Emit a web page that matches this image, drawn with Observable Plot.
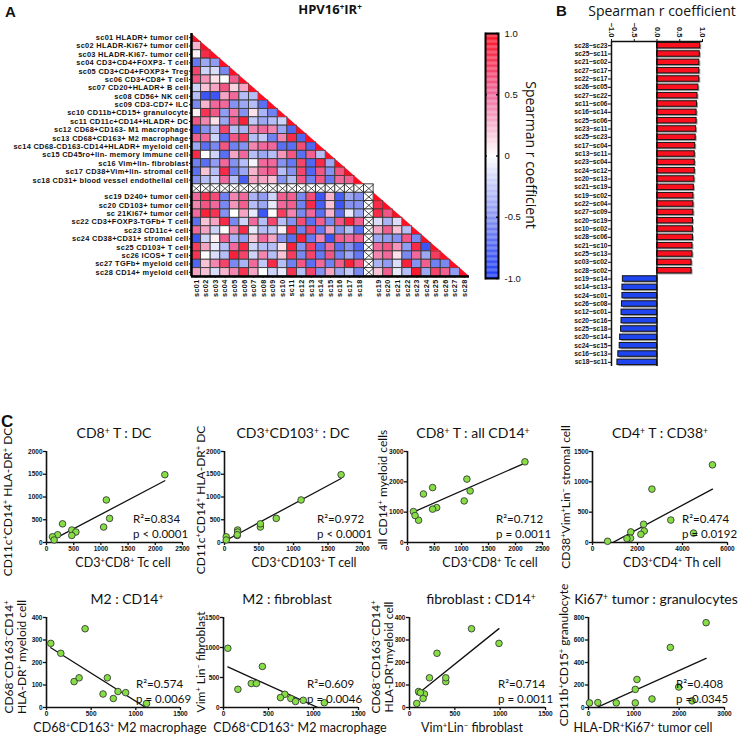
<!DOCTYPE html>
<html><head><meta charset="utf-8">
<script src="https://cdn.jsdelivr.net/npm/d3@7"></script>
<script src="https://cdn.jsdelivr.net/npm/@observablehq/plot@0.6"></script>
<style>
body{margin:0;background:#fff;}
#fig{position:relative;width:739px;height:738px;overflow:hidden;background:#fff;}
.t{position:absolute;white-space:nowrap;line-height:1;color:#111;}
.t sup{font-size:0.62em;vertical-align:baseline;position:relative;top:-0.5em;}
</style></head><body><div id="fig"></div><script>
// ---------- DATA ----------
const varNames = ["sc01 HLADR+ tumor cell","sc02 HLADR-Ki67+ tumor cell","sc03 HLADR-Ki67- tumor cell","sc04 CD3+CD4+FOXP3- T cell","sc05 CD3+CD4+FOXP3+ Treg","sc06 CD3+CD8+ T cell","sc07 CD20+HLADR+ B cell","sc08 CD56+ NK cell","sc09 CD3-CD7+ ILC","sc10 CD11b+CD15+ granulocyte","sc11 CD11c+CD14+HLADR+ DC","sc12 CD68+CD163- M1 macrophage","sc13 CD68+CD163+ M2 macrophage","sc14 CD68-CD163-CD14+HLADR+ myeloid cell","sc15 CD45ro+lin- memory immune cell","sc16 Vim+lin- fibroblast","sc17 CD38+Vim+lin- stromal cell","sc18 CD31+ blood vessel endothelial cell","sc19 D240+ tumor cell","sc20 CD103+ tumor cell","sc 21Ki67+ tumor cell","sc22 CD3+FOXP3-TGFb+ T cell","sc23 CD11c+ cell","sc24 CD38+CD31+ stromal cell","sc25 CD103+ T cell","sc26 ICOS+ T cell","sc27 TGFb+ myeloid cell","sc28 CD14+ myeloid cell"];
const varCodes = ["sc01","sc02","sc03","sc04","sc05","sc06","sc07","sc08","sc09","sc10","sc11","sc12","sc13","sc14","sc15","sc16","sc17","sc18","sc19","sc20","sc21","sc22","sc23","sc24","sc25","sc26","sc27","sc28"];
// lower-triangle Spearman r, row i holds columns 0..i-1
const corrRows = [
 [],
 [0.25],
 [0.05,0.85],
 [-0.65,-0.4,-0.45],
 [0.7,-0.2,-0.15,-0.55],
 [0.6,0.35,0.1,0.0,0.55],
 [-0.2,0.2,0.3,0.6,0.15,0.3],
 [-0.3,-0.85,-0.85,0.3,0.5,-0.3,-0.3],
 [-0.55,0.25,0.5,0.5,-0.5,-0.4,-0.3,-0.7],
 [0.05,0.8,0.6,-0.45,0.45,-0.5,0.1,-0.35,-0.6],
 [0.6,0.4,0.1,-0.4,0.55,0.9,-0.25,-0.4,-0.3,-0.2],
 [-0.85,-0.5,-0.3,0.7,-0.3,-0.35,0.4,0.5,0.4,-0.4,-0.75],
 [0.55,0.5,-0.2,-0.7,0.6,0.75,-0.3,-0.25,-0.6,0.4,0.85,-0.75],
 [-0.4,-0.7,-0.55,0.6,-0.6,-0.5,0.4,0.5,0.5,-0.7,-0.7,0.65,-0.75],
 [0.85,0.0,-0.2,-0.7,0.3,0.5,-0.3,-0.4,-0.3,0.35,0.6,-0.7,0.55,-0.3],
 [-0.6,-0.7,-0.45,0.5,-0.5,-0.3,-0.05,0.5,0.5,-0.5,-0.65,0.7,-0.75,0.85,-0.4],
 [-0.7,0.2,-0.3,0.85,-0.6,-0.4,0.25,0.5,0.6,-0.3,-0.5,0.7,-0.75,0.6,-0.5,0.6],
 [-0.5,-0.3,-0.2,0.5,-0.3,-0.8,0.3,0.3,0.2,-0.5,-0.3,0.6,-0.6,0.6,-0.65,0.5,0.55],
 [0.5,0.8,0.65,-0.6,0.4,0.5,-0.35,-0.45,-0.2,0.55,0.55,-0.55,0.65,-0.85,0.25,-0.8,-0.4,-0.5],
 [0.4,0.6,0.5,-0.55,0.35,0.55,-0.3,-0.4,-0.1,0.5,0.55,-0.6,0.85,-0.8,0.2,-0.85,-0.5,-0.5,0.85],
 [0.5,0.9,0.8,-0.5,0.0,0.3,-0.1,-0.85,0.0,0.75,0.4,-0.55,0.5,-0.7,0.25,-0.7,-0.1,-0.4,0.85,0.6],
 [-0.7,0.2,0.3,0.85,-0.55,-0.2,0.5,-0.3,0.7,-0.3,-0.5,0.65,-0.7,0.55,-0.55,0.6,0.9,0.55,-0.15,-0.35,-0.15],
 [0.5,0.3,-0.2,0.0,0.4,0.85,-0.1,-0.3,-0.25,0.05,0.85,-0.6,0.7,-0.65,0.3,-0.5,-0.3,-0.7,0.3,0.55,0.2,-0.3],
 [-0.85,-0.2,0.05,0.55,-0.35,-0.45,0.2,0.5,0.3,-0.5,-0.7,0.9,-0.65,0.4,-0.85,0.55,0.5,0.55,-0.4,-0.45,-0.5,0.6,-0.55],
 [0.75,0.3,-0.1,-0.3,0.5,0.85,-0.2,-0.3,-0.3,0.1,0.9,-0.5,0.75,-0.7,0.5,-0.7,-0.5,-0.75,0.5,0.6,0.35,-0.45,0.85,-0.85],
 [0.8,0.0,-0.15,-0.3,0.9,0.7,-0.2,0.4,-0.3,0.2,0.75,-0.55,0.7,-0.65,0.6,-0.6,-0.4,-0.65,0.4,0.5,0.1,-0.55,0.5,-0.4,0.75],
 [-0.75,0.2,0.4,0.7,-0.55,-0.35,0.5,-0.25,0.85,-0.3,-0.6,0.6,-0.7,0.5,-0.6,0.55,0.9,0.6,-0.35,-0.45,-0.15,0.9,-0.5,0.55,-0.6,-0.55],
 [0.3,0.2,-0.15,0.25,0.4,0.8,0.3,0.0,-0.2,-0.1,0.8,-0.3,0.7,-0.5,0.3,-0.4,-0.25,-0.55,0.2,0.55,-0.1,-0.3,0.95,-0.4,0.7,0.55,-0.45]
];
const colorbarTicks = [-1, -0.5, 0, 0.5, 1];
const colorbarTickLabels = ["-1.0", "-0.5", "0", "0.5", "1.0"];

const pairLabels = ["sc28~sc23","sc25~sc11","sc21~sc02","sc27~sc17","sc22~sc17","sc26~sc05","sc27~sc22","sc11~sc06","sc16~sc14","sc25~sc06","sc23~sc11","sc25~sc23","sc17~sc04","sc13~sc11","sc23~sc04","sc24~sc12","sc20~sc13","sc21~sc19","sc19~sc02","sc22~sc04","sc27~sc09","sc20~sc19","sc10~sc02","sc28~sc06","sc21~sc10","sc25~sc13","sc03~sc02","sc28~sc02","sc19~sc14","sc14~sc13","sc24~sc01","sc26~sc08","sc12~sc01","sc20~sc16","sc25~sc18","sc20~sc14","sc24~sc15","sc16~sc13","sc18~sc11"];
const pairR = [0.95,0.94,0.93,0.93,0.93,0.91,0.89,0.88,0.87,0.87,0.86,0.85,0.84,0.83,0.83,0.83,0.82,0.81,0.80,0.80,0.80,0.79,0.79,0.79,0.78,0.78,0.76,0.76,-0.75,-0.76,-0.76,-0.77,-0.78,-0.78,-0.79,-0.81,-0.82,-0.85,-0.87];
const barTicks = [-1, -0.5, 0, 0.5, 1];

// scatter data (panel C)
const tc8 = [2175,1100,1160,1050,295,465,540,465,205,110,140];
const dc = [1490,935,530,340,410,275,230,155,170,125,55];
const tc103 = [1690,1110,750,520,520,190,190,185,185,25,25];
const cd14All = [2660,2090,1700,1370,1600,1810,1150,1100,735,1020,890];
const th4 = [5330,2640,3480,2270,2300,1700,2150,1690,1530,670,4490];
const stromal = [1280,880,370,300,190,175,135,70,65,20,155];
const m2 = [48,160,432,309,365,681,633,748,800,886,1120];
const cd14Myeloid = [285,241,350,115,132,132,60,40,71,66,18];
const fibro = [987,303,684,400,400,220,165,150,100,120,80];
const ki67 = [2594,1805,1069,1032,1400,1032,612,206,22,1990,2284];
const gran = [754,534,249,161,76,41,41,44,41,182,59];
const panelTitles = ["CD8^+ T : DC","CD3^+CD103^+ : DC","CD8^+ T : all CD14^+","CD4^+ T : CD38^+","M2 : CD14^+","M2 : fibroblast","fibroblast : CD14^+","Ki67^+ tumor : granulocytes"];
const panelStats = [["R²=0.834","p < 0.0001"],["R²=0.972","p < 0.0001"],["R²=0.712","p = 0.0011"],["R²=0.474","p = 0.0192"],["R²=0.574","p = 0.0069"],["R²=0.609","p = 0.0046"],["R²=0.714","p = 0.0011"],["R²=0.408","p =0.0345"]];
const xLabels = ["CD3^+CD8^+ Tc cell","CD3^+CD103^+ T cell","CD3^+CD8^+ Tc cell","CD3^+CD4^+ Th cell","CD68^+CD163^+ M2 macrophage","CD68^+CD163^+ M2 macrophage","Vim^+Lin^- fibroblast","HLA-DR^+Ki67^+ tumor cell"];
const yLabels = [["CD11c^+CD14^+ HLA-DR^+ DC"],["CD11c^+CD14^+ HLA-DR^+ DC"],["all CD14^+ myeloid cells"],["CD38^+Vim^+Lin^- stromal cell"],["CD68^-CD163^-CD14^+","HLA-DR^+ myeloid cell"],["Vim^+ Lin^- fibroblast"],["CD68^-CD163^-CD14^+","HLA-DR^+myeloid cell"],["CD11b^+CD15^+ granulocyte"]];

// ---------- HELPERS ----------
const fig = document.getElementById("fig");
function put(el, left, top){ el.style.position="absolute"; el.style.left=left+"px"; el.style.top=top+"px"; fig.appendChild(el); }
function sup(s){ return s.replace(/\^([+\-])/g,(m,c)=>`<sup>${c==="-"?"−":c}</sup>`); }
function txt(s, x, y, o={}){
  const d=document.createElement("div"); d.className="t"; d.innerHTML=sup(s);
  d.style.left=x+"px"; d.style.top=y+"px";
  d.style.fontSize=(o.size||12)+"px"; d.style.fontWeight=o.weight||"normal";
  d.style.fontFamily=o.family||"Lato, sans-serif";
  const a=o.anchor||"middle";
  const tx=a==="start"?"0":a==="end"?"-100%":"-50%";
  d.style.transform=`translate(${tx},-50%)`+(o.rotate?` rotate(${o.rotate}deg)`:"");
  fig.appendChild(d);
}
const colorScale = {type:"linear", domain:[-1,-0.5,0,0.5,1], range:["#1c3bf5","#8592f2","#ffffff","#f0689c","#fb0f22"], interpolate:"rgb"};

// ---------- PANEL A : heatmap ----------
const slot = i => i < 18 ? i : i + 1;
const cells = [];
corrRows.forEach((row,i)=>row.forEach((v,j)=>cells.push({r:slot(i), c:slot(j), v})));
const sep = [];
for (let j=0;j<18;j++) sep.push({r:18, c:j});
sep.push({r:18,c:18});
for (let i=18;i<28;i++) sep.push({r:slot(i), c:18});
const tri = [];
varCodes.forEach((_,i)=>{ const k=slot(i); tri.push({k, x:k, y1:k+1, y2:k}, {k, x:k+1, y1:k+1, y2:k+1}); });
const rowTick = new Map(varNames.map((n,i)=>[slot(i)+0.5, n]));
const colTick = new Map(varCodes.map((n,i)=>[slot(i)+0.5, n]));

const heat = Plot.plot({
  width:480, height:300, marginLeft:191, marginRight:11, marginTop:33, marginBottom:24,
  x:{domain:[0,29]}, y:{domain:[0,29], reverse:true},
  color:colorScale,
  style:{fontFamily:"Liberation Sans, Arial, sans-serif", background:"transparent", color:"#111", overflow:"visible", letterSpacing:"0.3px"},
  marks:[
    Plot.rect(cells,{x1:"c", x2:d=>d.c+1, y1:"r", y2:d=>d.r+1, fill:"v", stroke:"#3c3c3c", strokeWidth:0.9}),
    Plot.rect(sep,{x1:"c", x2:d=>d.c+1, y1:"r", y2:d=>d.r+1, fill:"white", stroke:"#333", strokeWidth:0.9}),
    Plot.link(sep,{x1:"c", y1:"r", x2:d=>d.c+1, y2:d=>d.r+1, stroke:"#222", strokeWidth:0.8}),
    Plot.link(sep,{x1:d=>d.c+1, y1:"r", x2:"c", y2:d=>d.r+1, stroke:"#222", strokeWidth:0.8}),
    Plot.areaY(tri.filter(d=>d.k!==18),{x:"x", y1:"y1", y2:"y2", z:"k", fill:"#fb0f22"}),
    Plot.ruleX([0],{stroke:"#000", strokeWidth:2.5}),
    Plot.ruleY([29],{stroke:"#000", strokeWidth:2.5}),
    Plot.axisY({ticks:[...rowTick.keys()], tickFormat:v=>rowTick.get(v), tickSize:2, tickPadding:1, fontSize:7.4, fontWeight:"bold", label:null}),
    Plot.axisX({ticks:[...colTick.keys()], tickFormat:v=>colTick.get(v), tickSize:2, tickPadding:1, tickRotate:-90, fontSize:7.3, fontWeight:"bold", label:null})
  ]
});
put(heat, 0, 0);
txt("A", 5, 11, {size:15, weight:"bold", anchor:"start", family:"Liberation Sans, Arial, sans-serif"});
txt("HPV16^+IR^+", 330, 9, {size:13, weight:"bold", family:"Open Sans, sans-serif"});

// colorbar
const cbSteps = d3.range(-1, 1, 0.01);
const cb = Plot.plot({
  width:75, height:265, marginLeft:15, marginRight:47, marginTop:8, marginBottom:12,
  x:{domain:[0,1], axis:null}, y:{domain:[-1,1]},
  color:colorScale,
  style:{fontFamily:"Liberation Sans, Arial, sans-serif", background:"transparent", color:"#111", overflow:"visible"},
  marks:[
    Plot.rect(cbSteps,{x1:0, x2:1, y1:d=>d, y2:d=>d+0.01, fill:d=>d+0.005}),
    Plot.ruleY(colorbarTicks,{x1:0, x2:0.14, stroke:"#000", strokeWidth:1.5}),
    Plot.ruleY(colorbarTicks,{x1:0.86, x2:1, stroke:"#000", strokeWidth:1.5}),
    Plot.frame({stroke:"#000", strokeWidth:2}),
    Plot.axisY({anchor:"right", ticks:colorbarTicks, tickFormat:d=>colorbarTickLabels[colorbarTicks.indexOf(d)], tickSize:0, tickPadding:6, fontSize:9.5, label:null})
  ]
});
put(cb, 470, 25);
txt("Spearman r coefficient", 531, 155, {size:14, rotate:90, family:"Open Sans, sans-serif"});

// ---------- PANEL B : bars ----------
const bars = pairLabels.map((p,i)=>({i, p, v:pairR[i]}));
const barTick = new Map(bars.map(d=>[d.i+0.5, d.p]));
const bp = Plot.plot({
  width:179, height:380, marginLeft:51, marginRight:37, marginTop:41, marginBottom:14,
  x:{domain:[-1,1]}, y:{domain:[0,39], reverse:true},
  style:{fontFamily:"Liberation Sans, Arial, sans-serif", background:"transparent", color:"#111", overflow:"visible"},
  marks:[
    Plot.rect(bars,{x1:0, x2:"v", y1:d=>d.i+0.17, y2:d=>d.i+0.83, fill:"#a0a0a0", dx:1.5, dy:1.5}),
    Plot.rect(bars,{x1:0, x2:"v", y1:d=>d.i+0.17, y2:d=>d.i+0.83, fill:d=>d.v>0?"#fb1020":"#1f45f0", stroke:"#111", strokeWidth:1}),
    Plot.ruleX([0],{stroke:"#111", strokeWidth:1.5}),
    Plot.ruleX([-1],{stroke:"#111", strokeWidth:1.5}),
    Plot.ruleY([0],{stroke:"#111", strokeWidth:1.5}),
    Plot.axisY({ticks:[...barTick.keys()], tickFormat:v=>barTick.get(v), tickSize:3, tickPadding:1, fontSize:6.6, fontWeight:"bold", label:null}),
    Plot.axisX({anchor:"top", ticks:barTicks, tickFormat:d3.format(".1f"), tickSize:3, tickPadding:1, tickRotate:90, fontSize:7.5, fontWeight:"bold", label:null})
  ]
});
put(bp, 560, 0);
txt("B", 556, 10, {size:15, weight:"bold", anchor:"start", family:"Liberation Sans, Arial, sans-serif"});
txt("Spearman r coefficient", 662, 11, {size:14, family:"Open Sans, sans-serif"});

// ---------- PANEL C : scatters ----------
txt("C", 1, 421, {size:17, weight:"bold", anchor:"start", family:"Liberation Sans, Arial, sans-serif"});
function scatter(xs, ys, o){
  const L=36,T=6,R=8,B=14;
  const w=o.fx1-o.fx0+L+R, h=o.fy0-o.fyTop+T+B;
  const pts=xs.map((x,i)=>({x, y:ys[i]}));
  const mx=d3.mean(xs), my=d3.mean(ys);
  const b=d3.sum(pts,p=>(p.x-mx)*(p.y-my))/d3.sum(pts,p=>(p.x-mx)**2);
  const a=my-b*mx;
  const fit=d3.extent(xs).map(x=>({x, y:a+b*x}));
  const p=Plot.plot({
    width:w, height:h, marginLeft:L, marginRight:R, marginTop:T, marginBottom:B,
    x:{domain:o.xd}, y:{domain:o.yd},
    style:{fontFamily:"Liberation Sans, Arial, sans-serif", background:"transparent", color:"#111", overflow:"visible"},
    marks:[
      Plot.line(fit,{x:"x", y:"y", stroke:"#111", strokeWidth:1.3, clip:true}),
      Plot.ruleX([o.xd[0]],{stroke:"#111", strokeWidth:1.6}),
      Plot.ruleY([o.yd[0]],{stroke:"#111", strokeWidth:1.6}),
      Plot.axisX({ticks:o.xt, tickFormat:d=>String(d), tickSize:3, tickPadding:1, fontSize:6.5, fontWeight:"bold", label:null, strokeWidth:1.3}),
      Plot.axisY({ticks:o.yt, tickFormat:d=>String(d), tickSize:3, tickPadding:1, fontSize:6.5, fontWeight:"bold", label:null, strokeWidth:1.3}),
      Plot.dot(pts,{x:"x", y:"y", r:3.3, fill:"#86de45", stroke:"#3a3a3a", strokeWidth:0.9})
    ]
  });
  put(p, o.fx0-L, o.fyTop-T);
}
const panels = [
  {xs:tc8, ys:dc, xd:[0,2500], xt:[0,500,1000,1500,2000,2500], yd:[0,2000], yt:[0,500,1000,1500,2000], fx0:46, fx1:182, fyTop:451, fy0:542, tx:114, sx:133, xl:123, yl:[8], yc:502},
  {xs:tc103, ys:dc, xd:[0,2000], xt:[0,500,1000,1500,2000], yd:[0,2000], yt:[0,500,1000,1500,2000], fx0:224, fx1:362, fyTop:451, fy0:542, tx:293, sx:317, xl:304, yl:[201], yc:500},
  {xs:tc8, ys:cd14All, xd:[0,2500], xt:[0,500,1000,1500,2000,2500], yd:[0,3000], yt:[0,1000,2000,3000], fx0:407, fx1:542, fyTop:451, fy0:542, tx:473, sx:496, xl:490, yl:[383], yc:490},
  {xs:th4, ys:stromal, xd:[0,6000], xt:[0,2000,4000,6000], yd:[0,1500], yt:[0,500,1000,1500], fx0:592, fx1:727, fyTop:451, fy0:542, tx:660, sx:682, xl:672, yl:[566], yc:497},
  {xs:m2, ys:cd14Myeloid, xd:[0,1500], xt:[0,500,1000,1500], yd:[0,400], yt:[0,100,200,300,400], fx0:46, fx1:180, fyTop:617, fy0:707, tx:127, sx:136, xl:120, yl:[9,22], yc:657},
  {xs:m2, ys:fibro, xd:[0,1500], xt:[0,500,1000,1500], yd:[0,1500], yt:[0,500,1000,1500], fx0:223, fx1:358, fyTop:617, fy0:707, tx:287, sx:307, xl:300, yl:[201], yc:662},
  {xs:fibro, ys:cd14Myeloid, xd:[0,1500], xt:[0,500,1000,1500], yd:[0,400], yt:[0,100,200,300,400], fx0:409, fx1:545, fyTop:617, fy0:707, tx:481, sx:498, xl:472, yl:[376,389], yc:657},
  {xs:ki67, ys:gran, xd:[0,3000], xt:[0,1000,2000,3000], yd:[0,800], yt:[0,200,400,600,800], fx0:588, fx1:724, fyTop:617, fy0:707, tx:656, sx:676, xl:643, yl:[564], yc:655}
];
panels.forEach((o,k)=>{
  scatter(o.xs, o.ys, o);
  txt(panelTitles[k], o.tx, o.fyTop - 18, {size:14});
  txt(panelStats[k][0], o.sx, o.fy0 - 23, {size:11.5, anchor:"start"});
  txt(panelStats[k][1], o.sx, o.fy0 - 8, {size:11.5, anchor:"start"});
  txt(xLabels[k], o.xl, o.fy0 + 21, {size:12.5});
  yLabels[k].forEach((s,m)=>txt(s, o.yl[m], o.yc, {size:12, rotate:-90}));
});
</script></body></html>
